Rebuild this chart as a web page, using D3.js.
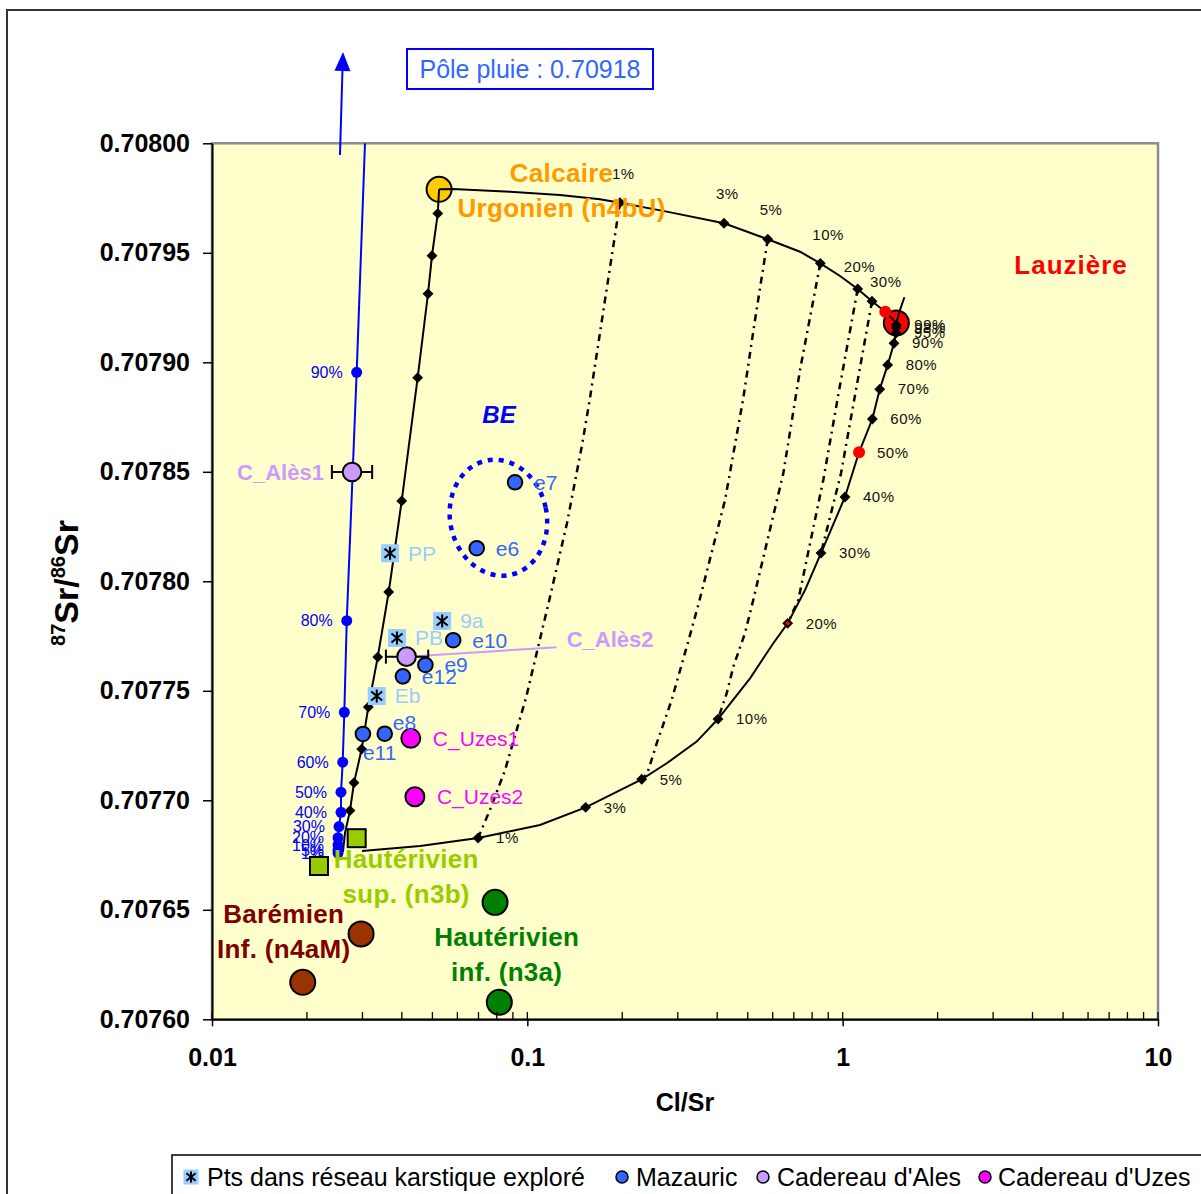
<!DOCTYPE html>
<html><head><meta charset="utf-8">
<script src="https://cdn.jsdelivr.net/npm/d3@7"></script>
<style>body{margin:0;background:#fff}svg{display:block}text{font-family:"Liberation Sans",Arial,Helvetica,sans-serif}</style>
</head><body><svg id="c" width="1201" height="1194"></svg>
<script>
// ---------- DATA ----------
const xTicks = [0.01, 0.1, 1, 10];
const xTickLabels = ["0.01", "0.1", "1", "10"];
const yTicks = [0.7076, 0.70765, 0.7077, 0.70775, 0.7078, 0.70785, 0.7079, 0.70795, 0.708];
const yTickLabels = ["0.70760","0.70765","0.70770","0.70775","0.70780","0.70785","0.70790","0.70795","0.70800"];

// end-members
const urgonien = [0.0525, 0.707979];
const lauziere = [1.48, 0.707918];
const hauteSup = [[0.02876, 0.7076827], [0.02184, 0.70767]];
const hauteInf = [[0.0790, 0.7076534], [0.0815, 0.7076078]];
const baremien = [[0.0297, 0.707639], [0.0194, 0.7076169]];

// mixing curves: [Cl/Sr, 87Sr/86Sr, marker label (null = no marker, "" = unlabeled marker)]
const topCurve = [
 [0.0525,0.707979,null],[0.0581,0.7079791,null],[0.0881,0.7079779,null],[0.1269,0.7079764,null],
 [0.170,0.7079744,null],[0.1967,0.7079729,"1%"],[0.2767,0.7079688,null],[0.4204,0.7079635,"3%"],
 [0.5786,0.7079562,"5%"],[0.7324,0.7079505,null],[0.8495,0.7079452,"10%"],[0.981,0.7079394,null],
 [1.116,0.7079335,"20%"],[1.239,0.7079279,"30%"],[1.365,0.7079231,null],[1.48,0.707918,null]
];
const lowerCurve = [
 [0.0299,0.7076769,null],[0.0457,0.7076791,null],[0.0698,0.7076828,"1%"],[0.1097,0.7076887,null],
 [0.1531,0.7076968,"3%"],[0.2305,0.7077096,"5%"],[0.2767,0.7077169,null],[0.3444,0.7077268,null],
 [0.4024,0.7077371,"10%"],[0.5084,0.7077557,null],[0.6026,0.7077717,null],[0.6694,0.7077808,"20%"],
 [0.7597,0.707796,null],[0.8537,0.7078129,"30%"],[1.017,0.7078385,"40%"],[1.127,0.7078589,"50%"],
 [1.242,0.7078741,"60%"],[1.311,0.7078877,"70%"],[1.389,0.7078988,"80%"],[1.455,0.7079087,"90%"],
 [1.476,0.7079134,"95%"],[1.479,0.7079157,"98%"],[1.480,0.707917,"99%"],[1.48,0.707918,null],
 [1.520,0.7079239,null],[1.569,0.7079297,null]
];
const leftCurve = [
 [0.0525,0.707979,null],[0.0520,0.707968,""],[0.04985,0.7079487,""],[0.04842,0.7079313,""],
 [0.0449,0.707893,""],[0.03996,0.7078367,""],[0.03634,0.7077951,""],[0.03354,0.7077654,""],
 [0.03131,0.7077426,""],[0.02983,0.7077234,""],[0.0282,0.707708,""],[0.02739,0.7076953,""],
 [0.02641,0.7076851,null],[0.02602,0.7076764,null]
];
// tie lines between equal-% points of the two curves
const tie1 = [[0.1967,0.7079729],[0.1763,0.7079284],[0.1580,0.7078836],[0.1491,0.7078622],[0.1336,0.7078266],[0.1180,0.7077928],[0.0990,0.7077467],[0.0850,0.7077138],[0.0761,0.7076956],[0.0698,0.7076828]];
const tie5 = [[0.5786,0.7079562],[0.5272,0.7079193],[0.4841,0.7078836],[0.4236,0.7078371],[0.3485,0.7077892],[0.3226,0.7077717],[0.2869,0.7077458],[0.2572,0.707726],[0.2402,0.7077123],[0.2305,0.7077096]];
const tie10 = [[0.8495,0.7079452],[0.7324,0.7078965],[0.6483,0.7078493],[0.5206,0.7077915],[0.4901,0.7077763],[0.4500,0.707761],[0.4289,0.7077489],[0.4024,0.7077371]];
const tie20 = [[1.116,0.7079335],[0.981,0.7078896],[0.8681,0.7078463],[0.7233,0.7077915],[0.6694,0.7077808]];
const tie30 = [[1.239,0.7079279],[1.102,0.7078874],[0.988,0.7078493],[0.8537,0.7078129]];
const redDots = [[1.365,0.7079231],[1.127,0.7078589]];
const redTick = [0.6694,0.7077808];

// rain pole mixing line
const rainMix = [
 [0.0251,0.7076759,"1%"],[0.0251,0.7076773,"5%"],[0.0251,0.7076796,"10%"],[0.0251,0.7076829,"20%"],
 [0.02528,0.707688,"30%"],[0.02565,0.7076945,"40%"],[0.02565,0.7077037,"50%"],[0.02597,0.7077174,"60%"],
 [0.02628,0.7077402,"70%"],[0.02675,0.707782,"80%"],[0.02876,0.7078954,"90%"]
];
const rainLineEnd = [0.03056, 0.708];
const rainArrow = [[0.02546,0.7079947],[0.02603,0.7080417]];

// samples
const karst = [["PP",0.0367,0.7078128],["9a",0.0537,0.7077819],["PB",0.0386,0.7077741],["Eb",0.0333,0.7077476]];
const mazauric = [["e7",0.0914,0.7078452],["e6",0.0691,0.7078151],["e10",0.0582,0.7077731],["e9",0.0475,0.7077618],["e12",0.0403,0.7077566],["e8",0.0353,0.7077304],["e11",0.0301,0.7077303]];
const cadAles = [["C_Alès1",0.0278,0.7078499,0.0240,0.0322],["C_Alès2",0.0414,0.7077656,0.0356,0.0485]];
const alesLeaderEnd = [0.1239,0.7077699];
const cadUzes = [["C_Uzes1",0.0427,0.7077283],["C_Uzes2",0.0440,0.7077016]];
const beBox = [0.0569,0.1152,0.7078024,0.7078557];
const beLabel = [0.0813,0.7078759];

const endLabels = [
 {lines:["Calcaire","Urgonien (n4bU)"], at:[0.1284,0.7079867], key:"urg"},
 {lines:["Lauzière"], at:[5.30,0.7079444], key:"lau"},
 {lines:["Hautérivien","sup. (n3b)"], at:[0.0413,0.7076731], key:"hs"},
 {lines:["Barémien","Inf. (n4aM)"], at:[0.01688,0.7076481], key:"bar"},
 {lines:["Hautérivien","inf. (n3a)"], at:[0.0860,0.7076377], key:"hi"}
];
const legendItems = ["Pts dans réseau karstique exploré","Mazauric","Cadereau d'Ales","Cadereau d'Uzes"];
const poleText = "Pôle pluie : 0.70918";

// ---------- STYLE ----------
const col = {urg:"#FF9900",lau:"#FF0000",hs:"#99CC00",bar:"#800000",hi:"#008000"};
const FONT = '"Liberation Sans",Arial,Helvetica,sans-serif';

// ---------- DRAW ----------
const svg = d3.select("#c");
const x = d3.scaleLog().domain([0.01,10]).range([212,1158]);
const y = d3.scaleLinear().domain([0.7076,0.708]).range([1019.3,143.3]);
const line = d3.line().x(d=>x(d[0])).y(d=>y(d[1]));

svg.append("rect").attr("x",7).attr("y",10).attr("width",1230).attr("height",1230)
  .attr("fill","#fff").attr("stroke","#333").attr("stroke-width",2);
svg.append("rect").attr("x",212).attr("y",143.3).attr("width",946).attr("height",876)
  .attr("fill","#FFFFCC").attr("stroke","#8c8c8c").attr("stroke-width",2.5);

// big end-member circles under curves
svg.append("circle").attr("cx",x(urgonien[0])).attr("cy",y(urgonien[1])).attr("r",12.5)
  .attr("fill","#FFCC00").attr("stroke","#000").attr("stroke-width",2);
svg.append("circle").attr("cx",x(lauziere[0])).attr("cy",y(lauziere[1])).attr("r",12.5)
  .attr("fill","#FF0000").attr("stroke","#000").attr("stroke-width",2);

// tie lines
[tie1,tie5,tie10,tie20,tie30].forEach(t=>{
  svg.append("path").attr("d",line(t)).attr("fill","none").attr("stroke","#000")
    .attr("stroke-width",2.5).attr("stroke-dasharray","7,5,2,5");
});
// curves
[topCurve,lowerCurve,leftCurve].forEach(c=>{
  svg.append("path").attr("d",line(c)).attr("fill","none").attr("stroke","#000").attr("stroke-width",2);
  svg.append("g").selectAll("path").data(c.filter(d=>d[2]!==null)).join("path")
    .attr("d",d3.symbol(d3.symbolDiamond2,75)())
    .attr("transform",d=>`translate(${x(d[0])},${y(d[1])})`).attr("fill","#000");
});
svg.append("g").selectAll("circle").data(redDots).join("circle")
  .attr("cx",d=>x(d[0])).attr("cy",d=>y(d[1])).attr("r",6).attr("fill","#FF0000");
svg.append("circle").attr("cx",x(redTick[0])).attr("cy",y(redTick[1])).attr("r",2).attr("fill","#FF0000");

// curve labels
const pctFont = 15;
svg.append("g").selectAll("text").data(topCurve.filter(d=>d[2])).join("text")
  .attr("x",d=>x(d[0]) + (d[2]==="20%"?-14:d[2]==="30%"?-2:-8))
  .attr("y",d=>y(d[1]) + (d[2]==="20%"?-22:d[2]==="30%"?-19:-29))
  .attr("dy","0.35em").attr("font-size",pctFont).attr("fill","#111").attr("letter-spacing",0.5).text(d=>d[2]);
svg.append("g").selectAll("text").data(lowerCurve.filter(d=>d[2])).join("text")
  .attr("x",d=>x(d[0])+18).attr("y",d=>y(d[1]))
  .attr("dy","0.35em").attr("font-size",pctFont).attr("fill","#111").attr("letter-spacing",0.5).text(d=>d[2]);

// rain mixing line
svg.append("path").attr("d",line(rainMix.concat([rainLineEnd]))).attr("fill","none")
  .attr("stroke","#0000FF").attr("stroke-width",2);
svg.append("g").selectAll("circle").data(rainMix).join("circle")
  .attr("cx",d=>x(d[0])).attr("cy",d=>y(d[1])).attr("r",5.5).attr("fill","#0000FF");
svg.append("g").selectAll("text").data(rainMix).join("text")
  .attr("x",d=>x(d[0])-14).attr("y",d=>y(d[1])).attr("dy","0.35em").attr("text-anchor","end")
  .attr("font-size",16).attr("fill","#0000FF").text(d=>d[2]);
{
  const a=[x(rainArrow[0][0]),y(rainArrow[0][1])], b=[x(rainArrow[1][0]),y(rainArrow[1][1])];
  const ang=Math.atan2(b[1]-a[1],b[0]-a[0]);
  const L=19, hw=8;
  const base=[b[0]-L*Math.cos(ang), b[1]-L*Math.sin(ang)];
  svg.append("line").attr("x1",a[0]).attr("y1",a[1]).attr("x2",base[0]).attr("y2",base[1])
    .attr("stroke","#0000FF").attr("stroke-width",2);
  const p1=[base[0]+hw*Math.sin(ang), base[1]-hw*Math.cos(ang)], p2=[base[0]-hw*Math.sin(ang), base[1]+hw*Math.cos(ang)];
  svg.append("path").attr("d",`M${b[0]},${b[1]}L${p1[0]},${p1[1]}L${p2[0]},${p2[1]}Z`).attr("fill","#0000FF");
}

// BE ellipse
{
  const x0=x(beBox[0]), x1=x(beBox[1]), y0=y(beBox[3]), y1=y(beBox[2]);
  svg.append("ellipse").attr("cx",(x0+x1)/2).attr("cy",(y0+y1)/2).attr("rx",(x1-x0)/2).attr("ry",(y1-y0)/2)
    .attr("transform",`rotate(-12,${(x0+x1)/2},${(y0+y1)/2})`)
    .attr("fill","none").attr("stroke","#0000FF").attr("stroke-width",4.5).attr("stroke-dasharray","5,6");
  svg.append("text").attr("x",x(beLabel[0])).attr("y",y(beLabel[1])).attr("dy","0.35em")
    .attr("text-anchor","middle").attr("font-size",24).attr("font-weight","bold").attr("font-style","italic")
    .attr("fill","#0000FF").text("BE");
}

// end-member markers
svg.append("g").selectAll("rect").data(hauteSup).join("rect")
  .attr("x",d=>x(d[0])-9).attr("y",d=>y(d[1])-9).attr("width",18).attr("height",18)
  .attr("fill","#99CC00").attr("stroke","#000").attr("stroke-width",2);
svg.append("g").selectAll("circle").data(hauteInf).join("circle")
  .attr("cx",d=>x(d[0])).attr("cy",d=>y(d[1])).attr("r",12.5).attr("fill","#008000").attr("stroke","#000").attr("stroke-width",2);
svg.append("g").selectAll("circle").data(baremien).join("circle")
  .attr("cx",d=>x(d[0])).attr("cy",d=>y(d[1])).attr("r",12.5).attr("fill","#993300").attr("stroke","#000").attr("stroke-width",2);

// Cadereau d'Ales leader + error bars
svg.append("line").attr("x1",x(cadAles[1][1])).attr("y1",y(cadAles[1][2]))
  .attr("x2",x(alesLeaderEnd[0])).attr("y2",y(alesLeaderEnd[1])).attr("stroke","#CC99FF").attr("stroke-width",2);
cadAles.forEach(d=>{
  const cy=y(d[2]), a=x(d[3]), b=x(d[4]);
  const g=svg.append("g").attr("stroke","#000").attr("stroke-width",2);
  g.append("line").attr("x1",a).attr("x2",b).attr("y1",cy).attr("y2",cy);
  g.append("line").attr("x1",a).attr("x2",a).attr("y1",cy-7).attr("y2",cy+7);
  g.append("line").attr("x1",b).attr("x2",b).attr("y1",cy-7).attr("y2",cy+7);
});
svg.append("g").selectAll("circle").data(cadAles).join("circle")
  .attr("cx",d=>x(d[1])).attr("cy",d=>y(d[2])).attr("r",9.3).attr("fill","#CC99FF").attr("stroke","#000").attr("stroke-width",2);
svg.append("g").selectAll("circle").data(cadUzes).join("circle")
  .attr("cx",d=>x(d[1])).attr("cy",d=>y(d[2])).attr("r",9.5).attr("fill","#FF00FF").attr("stroke","#000").attr("stroke-width",2);
svg.append("g").selectAll("circle").data(mazauric).join("circle")
  .attr("cx",d=>x(d[1])).attr("cy",d=>y(d[2])).attr("r",7.3).attr("fill","#3366FF").attr("stroke","#000").attr("stroke-width",2);

function asterisk(g, cx, cy, s){
  g.append("rect").attr("x",cx-s/2).attr("y",cy-s/2).attr("width",s).attr("height",s).attr("fill","#99CCFF");
  const h=s*0.36;
  g.append("path").attr("d",`M${cx},${cy-h}V${cy+h}M${cx-h*0.85},${cy-h*0.7}L${cx+h*0.85},${cy+h*0.7}M${cx-h*0.85},${cy+h*0.7}L${cx+h*0.85},${cy-h*0.7}`)
    .attr("stroke","#000").attr("stroke-width",2).attr("fill","none");
}
const kg = svg.append("g");
karst.forEach(d=>asterisk(kg, x(d[1]), y(d[2]), 18));

// sample labels
const nudge = {e8:[8,-11], e11:[0,19]};
svg.append("g").selectAll("text").data(mazauric).join("text")
  .attr("x",d=>x(d[1])+(nudge[d[0]]?nudge[d[0]][0]:19)).attr("y",d=>y(d[2])+(nudge[d[0]]?nudge[d[0]][1]:0))
  .attr("dy","0.35em").attr("font-size",21).attr("fill","#3366FF").text(d=>d[0]);
svg.append("g").selectAll("text").data(karst).join("text")
  .attr("x",d=>x(d[1])+18).attr("y",d=>y(d[2])).attr("dy","0.35em").attr("font-size",21).attr("fill","#99CCFF").text(d=>d[0]);
svg.append("g").selectAll("text").data(cadUzes).join("text")
  .attr("x",d=>x(d[1])+22).attr("y",d=>y(d[2])).attr("dy","0.35em").attr("font-size",21).attr("fill","#FF00FF").text(d=>d[0]);
svg.append("text").attr("x",x(cadAles[0][3])-8).attr("y",y(cadAles[0][2])).attr("dy","0.35em").attr("text-anchor","end")
  .attr("font-size",22).attr("font-weight","bold").attr("fill","#CC99FF").text(cadAles[0][0]);
svg.append("text").attr("x",x(alesLeaderEnd[0])+10).attr("y",y(alesLeaderEnd[1])-8).attr("dy","0.35em")
  .attr("font-size",22).attr("font-weight","bold").attr("fill","#CC99FF").text(cadAles[1][0]);

// end-member labels
endLabels.forEach(l=>{
  const t=svg.append("text").attr("text-anchor","middle").attr("font-size",26).attr("font-weight","bold")
    .attr("fill",col[l.key]).attr("letter-spacing",l.key==="lau"?1:0.3);
  l.lines.forEach((s,i)=>t.append("tspan").attr("x",x(l.at[0])).attr("y",y(l.at[1])+i*35).attr("dy","0.35em").text(s));
});

// axes
const gy = svg.append("g").attr("transform","translate(212,0)")
  .call(d3.axisLeft(y).tickValues(yTicks).tickFormat((d,i)=>yTickLabels[i]).tickSizeInner(9).tickSizeOuter(0).tickPadding(13));
gy.attr("font-family",FONT).attr("font-size",25).attr("font-weight","bold");
gy.select(".domain").attr("stroke","#000").attr("stroke-width",2);
gy.selectAll(".tick line").attr("stroke","#000").attr("stroke-width",1.5);
gy.selectAll(".tick text").attr("fill","#000");

const gx = svg.append("g").attr("transform","translate(0,1019.3)")
  .call(d3.axisBottom(x).tickValues(xTicks).tickFormat((d,i)=>xTickLabels[i]).tickSizeInner(7).tickSizeOuter(0).tickPadding(22));
gx.attr("font-family",FONT).attr("font-size",25).attr("font-weight","bold");
gx.select(".domain").attr("stroke","#000").attr("stroke-width",2);
gx.selectAll(".tick line").attr("stroke","#000").attr("stroke-width",1.5);
gx.selectAll(".tick text").attr("fill","#000");
svg.append("g").selectAll("line").data(x.ticks()).join("line")
  .attr("x1",d=>x(d)).attr("x2",d=>x(d)).attr("y1",1019.3).attr("y2",1012)
  .attr("stroke","#000").attr("stroke-width",1.3);

svg.append("text").attr("x",685).attr("y",1111).attr("text-anchor","middle").attr("font-size",25)
  .attr("font-weight","bold").text("Cl/Sr");
{
  const t=svg.append("text").attr("transform","translate(78,583) rotate(-90)").attr("text-anchor","middle")
    .attr("font-weight","bold").attr("font-size",34);
  t.append("tspan").attr("font-size",20).attr("dy",-13).text("87");
  t.append("tspan").attr("dy",13).text("Sr/");
  t.append("tspan").attr("font-size",20).attr("dy",-13).text("86");
  t.append("tspan").attr("dy",13).text("Sr");
}

// pole pluie box
svg.append("rect").attr("x",407).attr("y",49).attr("width",246).attr("height",40)
  .attr("fill","#fff").attr("stroke","#0000FF").attr("stroke-width",2);
svg.append("text").attr("x",530).attr("y",69).attr("dy","0.35em").attr("text-anchor","middle")
  .attr("font-size",25).attr("fill","#3366FF").text(poleText);

// legend
svg.append("rect").attr("x",172).attr("y",1155).attr("width",1100).attr("height",100)
  .attr("fill","#fff").attr("stroke","#000").attr("stroke-width",1.5);
const lg = svg.append("g");
const ly = 1177;
asterisk(lg, 191, ly, 15);
const legX = [207, 636, 777, 998];
const legDot = [null, "#3366FF", "#CC99FF", "#FF00FF"];
const legDotX = [null, 622, 763, 985];
legendItems.forEach((s,i)=>{
  if(legDot[i]) lg.append("circle").attr("cx",legDotX[i]).attr("cy",ly).attr("r",6).attr("fill",legDot[i]).attr("stroke","#000").attr("stroke-width",1.5);
  lg.append("text").attr("x",legX[i]).attr("y",ly).attr("dy","0.35em").attr("font-size",25).attr("fill","#000").text(s);
});
</script></body></html>
